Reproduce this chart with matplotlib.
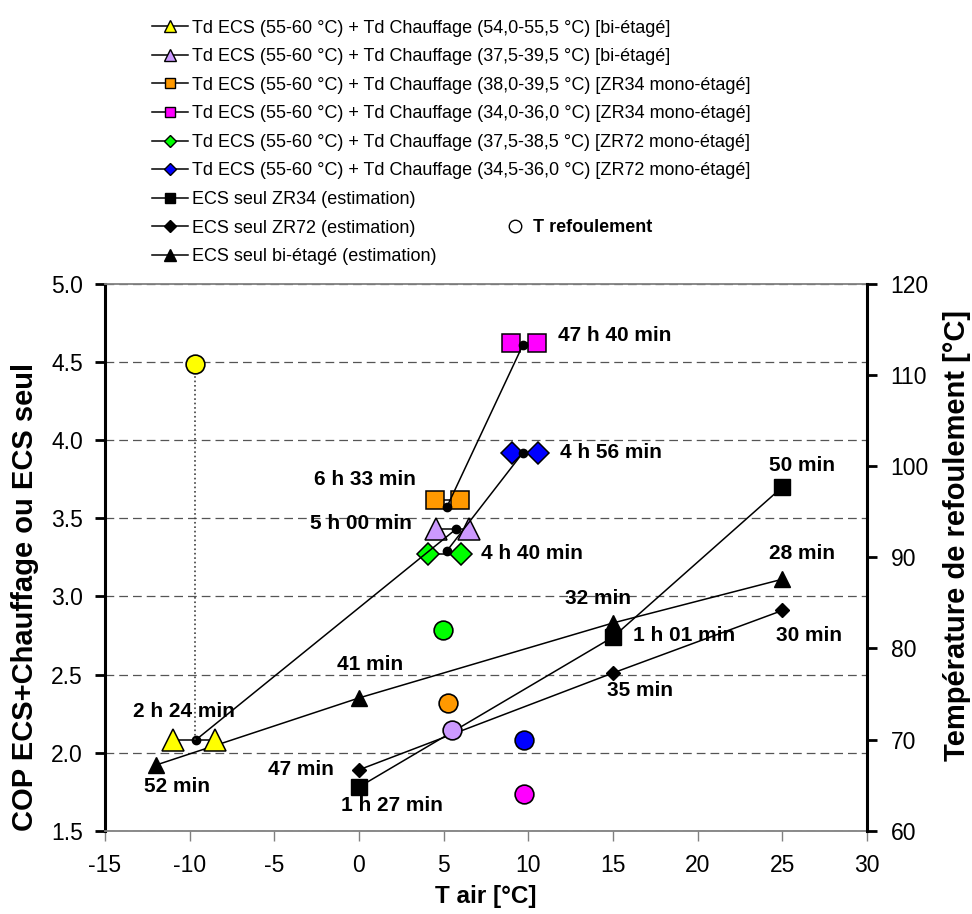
import matplotlib.pyplot as plt
from matplotlib.lines import Line2D

plt.rcParams['font.family'] = ['Liberation Sans', 'DejaVu Sans']
plt.rcParams['axes.unicode_minus'] = False

# ---- data ----
# ECS seul (estimation), left axis
t_zr34 = [0, 15, 25]
cop_zr34 = [1.78, 2.74, 3.70]
t_zr72 = [0, 15, 25]
cop_zr72 = [1.89, 2.51, 2.91]
t_bi = [-12, 0, 15, 25]
cop_bi = [1.92, 2.35, 2.83, 3.11]

# ECS + Chauffage, two points per test
t_yellow = [-11.0, -8.5]
cop_yellow = [2.08, 2.08]
t_purple = [4.53, 6.51]
cop_purple = [3.43, 3.43]
t_orange = [4.48, 5.99]
cop_orange = [3.62, 3.62]
t_magenta = [8.97, 10.5]
cop_magenta = [4.62, 4.62]
t_green = [4.07, 6.03]
cop_green = [3.27, 3.27]
t_blue = [9.03, 10.58]
cop_blue = [3.92, 3.92]

# small black mean points
dot_t = [-9.65, 5.72, 5.18, 9.68, 5.18, 9.68]
dot_cop = [2.08, 3.43, 3.57, 4.61, 3.29, 3.92]

# T refoulement, right axis
ref_t = [-9.7, 4.94, 5.24, 5.5, 9.72, 9.72]
ref_temp = [111.2, 82.0, 74.0, 71.0, 70.0, 64.0]
ref_colors = ['#FFFF00', '#00FF00', '#FF9900', '#CC99FF', '#0000FF', '#FF00FF']

# durations
ann_text = ['47 h 40 min', '4 h 56 min', '4 h 40 min', '6 h 33 min', '5 h 00 min',
            '50 min', '28 min', '32 min', '1 h 01 min', '30 min', '35 min',
            '41 min', '2 h 24 min', '52 min', '47 min', '1 h 27 min']
ann_x = [15.12, 14.9, 10.2, 0.36, 0.1,
         26.15, 26.15, 14.1, 19.2, 26.6, 16.62,
         0.65, -10.32, -10.76, -3.41, 1.92]
ann_y = [4.67, 3.92, 3.276, 3.75, 3.468,
         3.835, 3.276, 2.988, 2.747, 2.747, 2.396,
         2.561, 2.266, 1.78, 1.889, 1.66]

labels = [
    'Td ECS (55-60 °C) + Td Chauffage (54,0-55,5 °C) [bi-étagé]',
    'Td ECS (55-60 °C) + Td Chauffage (37,5-39,5 °C) [bi-étagé]',
    'Td ECS (55-60 °C) + Td Chauffage (38,0-39,5 °C) [ZR34 mono-étagé]',
    'Td ECS (55-60 °C) + Td Chauffage (34,0-36,0 °C) [ZR34 mono-étagé]',
    'Td ECS (55-60 °C) + Td Chauffage (37,5-38,5 °C) [ZR72 mono-étagé]',
    'Td ECS (55-60 °C) + Td Chauffage (34,5-36,0 °C) [ZR72 mono-étagé]',
    'ECS seul ZR34 (estimation)',
    'ECS seul ZR72 (estimation)',
    'ECS seul bi-étagé (estimation)',
]


def to_right(c):
    return 60 + (c - 1.5) * 60 / 3.5


fig = plt.figure(figsize=(9.72, 9.14), dpi=100)
ax = fig.add_axes([0.108, 0.0911, 0.784, 0.5982])
ax2 = ax.twinx()

# black estimation lines
ax.plot(t_zr34, cop_zr34, color='black', lw=1.1, marker='s', ms=11, mfc='black', mec='black', zorder=3)
ax.plot(t_zr72, cop_zr72, color='black', lw=1.1, marker='D', ms=7.5, mfc='black', mec='black', zorder=3)
ax.plot(t_bi, cop_bi, color='black', lw=1.1, marker='^', ms=12, mfc='black', mec='black', zorder=3)

# pairs
pairs = [
    (t_yellow, cop_yellow, '#FFFF00', '^', 16.5),
    (t_purple, cop_purple, '#CC99FF', '^', 16),
    (t_orange, cop_orange, '#FF9900', 's', 13),
    (t_magenta, cop_magenta, '#FF00FF', 's', 13),
    (t_green, cop_green, '#00FF00', 'D', 11),
    (t_blue, cop_blue, '#0000FF', 'D', 11),
]
for tx, cy, col, mk, size in pairs:
    ax.plot(tx, cy, color='black', lw=1.1, marker=mk, ms=size, mfc=col, mec='black', mew=1.1, zorder=4)

# links between mean points
for i, j in [(0, 1), (2, 3), (4, 5)]:
    ax.plot([dot_t[i], dot_t[j]], [dot_cop[i], dot_cop[j]], color='black', lw=1.1, zorder=5)
ax.plot(dot_t, dot_cop, ls='none', marker='o', ms=6, color='black', zorder=6)

# dotted link to refoulement temperature
ax2.plot([ref_t[0], ref_t[0]], [to_right(dot_cop[0]), ref_temp[0]], color='#404040', ls=':', lw=1.2, zorder=1)
for tx, tr, col in zip(ref_t, ref_temp, ref_colors):
    ax2.plot(tx, tr, ls='none', marker='o', ms=13.5, mfc=col, mec='black', mew=1.2, zorder=5)

for s, x, y in zip(ann_text, ann_x, ann_y):
    ax.text(x, y, s, fontsize=15, fontweight='bold', ha='center', va='center', zorder=7)

# axes
ax.set_xlim(-15, 30)
ax.set_ylim(1.5, 5.0)
ax2.set_ylim(60, 120)
ax.set_xticks(range(-15, 31, 5))
ax.set_yticks([1.5, 2.0, 2.5, 3.0, 3.5, 4.0, 4.5, 5.0])
ax.set_yticklabels(['%.1f' % v for v in [1.5, 2.0, 2.5, 3.0, 3.5, 4.0, 4.5, 5.0]])
ax2.set_yticks(range(60, 121, 10))

ax.yaxis.grid(True, linestyle=(0, (7, 4)), color='#555555', lw=0.9)
ax.set_axisbelow(True)

for side in ['top', 'bottom']:
    ax.spines[side].set_color('#808080')
    ax.spines[side].set_linewidth(1.3)
    ax2.spines[side].set_visible(False)
ax.spines['left'].set_linewidth(2.2)
ax.spines['right'].set_visible(False)
ax2.spines['left'].set_visible(False)
ax2.spines['right'].set_linewidth(2.2)

ax.tick_params(axis='y', direction='out', length=7, width=2, labelsize=16.5, pad=9)
ax.tick_params(axis='x', direction='out', length=7, width=1, color='#808080', labelsize=16.5, pad=10)
ax2.tick_params(axis='y', direction='out', length=7, width=2, labelsize=16.5, pad=10)

ax.set_xlabel('T air [°C]', fontsize=17.5, fontweight='bold')
ax.xaxis.set_label_coords(0.5, -0.100)
ax.set_ylabel('COP ECS+Chauffage ou ECS seul', fontsize=21, fontweight='bold')
ax.yaxis.set_label_coords(-0.086, 0.427)
ax2.set_ylabel('Température de refoulement [°C]', fontsize=21, fontweight='bold')
ax2.yaxis.set_label_coords(1.10, 0.54)

# legend
handles = [
    Line2D([], [], color='black', lw=1.1, marker='^', ms=9, mfc='#FFFF00', mec='black'),
    Line2D([], [], color='black', lw=1.1, marker='^', ms=9, mfc='#CC99FF', mec='black'),
    Line2D([], [], color='black', lw=1.1, marker='s', ms=7, mfc='#FF9900', mec='black'),
    Line2D([], [], color='black', lw=1.1, marker='s', ms=7, mfc='#FF00FF', mec='black'),
    Line2D([], [], color='black', lw=1.1, marker='D', ms=6, mfc='#00FF00', mec='black'),
    Line2D([], [], color='black', lw=1.1, marker='D', ms=6, mfc='#0000FF', mec='black'),
    Line2D([], [], color='black', lw=1.1, marker='s', ms=7, mfc='black', mec='black'),
    Line2D([], [], color='black', lw=1.1, marker='D', ms=6, mfc='black', mec='black'),
    Line2D([], [], color='black', lw=1.1, marker='^', ms=9, mfc='black', mec='black'),
]
fig.legend(handles, labels, loc='upper left', bbox_to_anchor=(0.156, 0.9785), frameon=False,
           fontsize=13, handlelength=2.0, handletextpad=0.25, labelspacing=0.64,
           borderpad=0, borderaxespad=0)
fig.legend([Line2D([], [], ls='none', marker='o', ms=9, mfc='white', mec='black')], ['T refoulement'],
           loc='center left', bbox_to_anchor=(506 / 972, 1 - 228 / 914), frameon=False,
           prop={'size': 13, 'weight': 'bold'}, handlelength=1.0, handletextpad=0.5,
           borderpad=0, borderaxespad=0)

fig.savefig('out.png', dpi=100)
